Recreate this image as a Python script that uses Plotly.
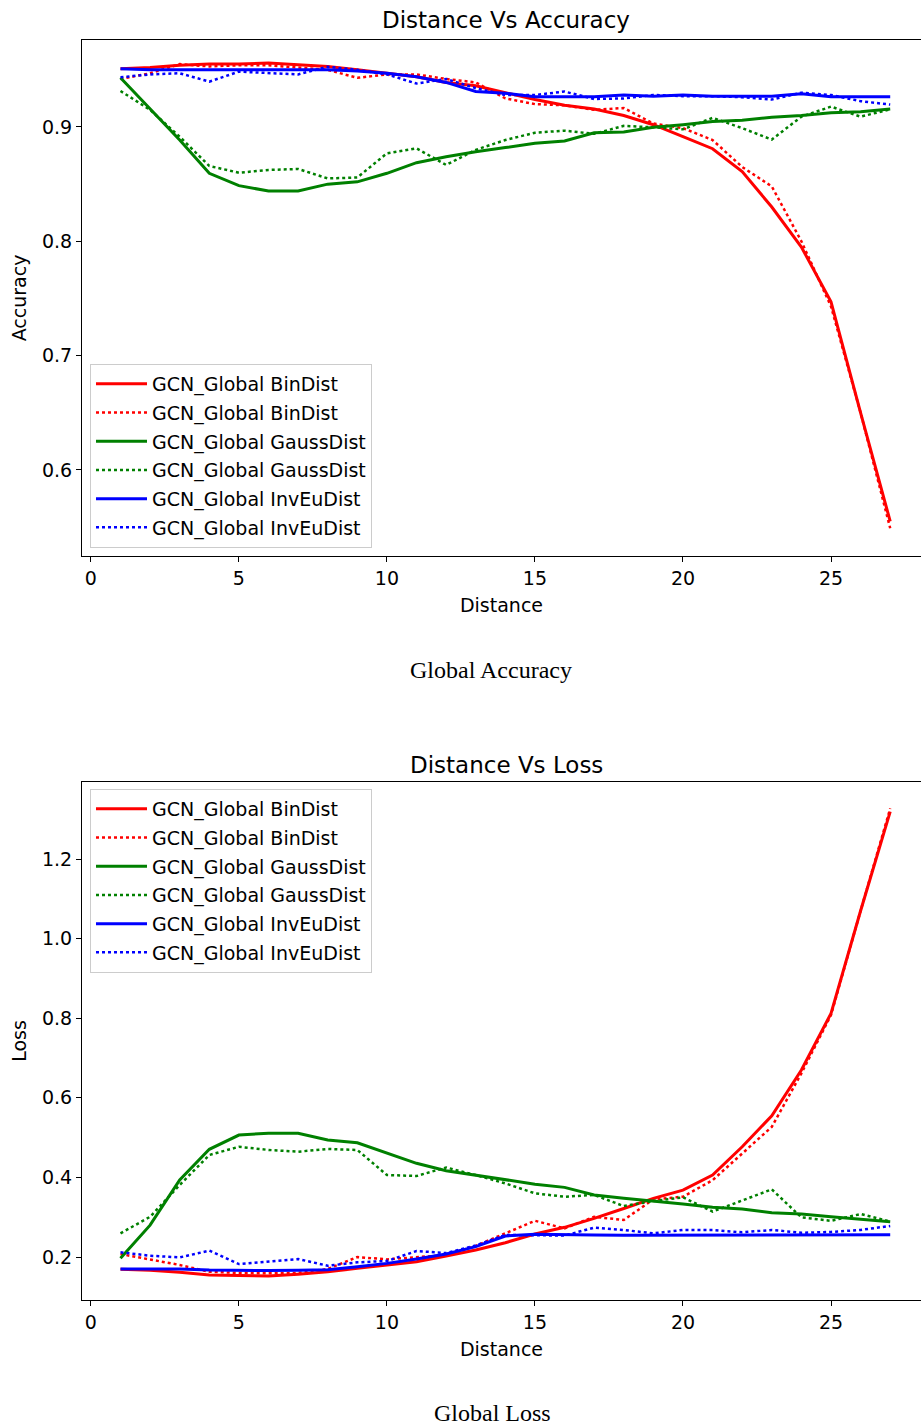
import plotly.graph_objects as go

distance = list(range(1, 28))

# Accuracy (top panel)
acc_bin_solid = [0.951, 0.952, 0.954, 0.955, 0.955, 0.956, 0.9545, 0.953, 0.950, 0.947, 0.944, 0.939, 0.936,
                 0.930, 0.924, 0.919, 0.9157, 0.910, 0.902, 0.8915, 0.881, 0.861, 0.830, 0.795, 0.747, 0.650, 0.555]
acc_bin_dot = [0.942, 0.947, 0.955, 0.953, 0.954, 0.954, 0.952, 0.950, 0.943, 0.946, 0.946, 0.942, 0.939,
               0.925, 0.920, 0.919, 0.915, 0.9166, 0.903, 0.899, 0.8886, 0.865, 0.848, 0.800, 0.743, 0.650, 0.549]
acc_gauss_solid = [0.943, 0.916, 0.8886, 0.8595, 0.8487, 0.844, 0.844, 0.850, 0.852, 0.8595, 0.8688, 0.874, 0.8784,
                   0.882, 0.8857, 0.8877, 0.895, 0.8956, 0.8997, 0.902, 0.9047, 0.906, 0.9085, 0.910, 0.9125, 0.9134, 0.9157]
acc_gauss_dot = [0.9315, 0.915, 0.8915, 0.8659, 0.860, 0.8624, 0.8633, 0.855, 0.8558, 0.877, 0.8813, 0.8668, 0.880,
                 0.8886, 0.895, 0.8968, 0.894, 0.901, 0.8997, 0.898, 0.908, 0.899, 0.889, 0.909, 0.9178, 0.909, 0.9155]
acc_inv_solid = [0.951, 0.950, 0.950, 0.950, 0.950, 0.950, 0.950, 0.950, 0.949, 0.947, 0.944, 0.939, 0.931,
                 0.9295, 0.9265, 0.9265, 0.9265, 0.928, 0.927, 0.928, 0.927, 0.927, 0.927, 0.929, 0.9265, 0.9265, 0.9265]
acc_inv_dot = [0.9435, 0.946, 0.947, 0.9397, 0.9484, 0.947, 0.946, 0.9527, 0.950, 0.946, 0.938, 0.942, 0.934,
               0.928, 0.928, 0.931, 0.9245, 0.925, 0.928, 0.927, 0.927, 0.926, 0.924, 0.930, 0.928, 0.9226, 0.9196]

# Loss (bottom panel)
loss_bin_solid = [0.169, 0.167, 0.1615, 0.155, 0.1535, 0.152, 0.157, 0.163, 0.1715, 0.180, 0.188, 0.2025, 0.2176,
                  0.236, 0.2578, 0.2746, 0.297, 0.322, 0.3475, 0.368, 0.406, 0.477, 0.555, 0.670, 0.812, 1.07, 1.319]
loss_bin_dot = [0.2075, 0.194, 0.180, 0.163, 0.160, 0.159, 0.160, 0.170, 0.200, 0.194, 0.200, 0.205, 0.228,
                0.259, 0.291, 0.272, 0.301, 0.293, 0.345, 0.3515, 0.393, 0.460, 0.527, 0.6616, 0.808, 1.07, 1.327]
loss_gauss_solid = [0.1967, 0.280, 0.3935, 0.4706, 0.5065, 0.511, 0.511, 0.494, 0.487, 0.462, 0.4354, 0.4169, 0.406,
                    0.3935, 0.383, 0.375, 0.356, 0.3475, 0.3407, 0.333, 0.325, 0.3206, 0.311, 0.308, 0.301, 0.2955, 0.2888]
loss_gauss_dot = [0.2595, 0.301, 0.381, 0.4563, 0.477, 0.469, 0.4646, 0.4714, 0.469, 0.406, 0.4035, 0.425, 0.406,
                  0.385, 0.360, 0.3515, 0.356, 0.328, 0.3407, 0.350, 0.314, 0.343, 0.370, 0.2997, 0.291, 0.308, 0.289]
loss_inv_solid = [0.170, 0.1706, 0.170, 0.1673, 0.166, 0.166, 0.167, 0.168, 0.1757, 0.184, 0.195, 0.2075, 0.226,
                  0.2528, 0.257, 0.2553, 0.2553, 0.2545, 0.2545, 0.254, 0.254, 0.254, 0.2545, 0.2545, 0.2545, 0.2545, 0.2558]
loss_inv_dot = [0.2118, 0.2033, 0.199, 0.216, 0.1824, 0.189, 0.195, 0.178, 0.1866, 0.190, 0.215, 0.210, 0.229,
                0.2553, 0.2553, 0.254, 0.2737, 0.268, 0.2595, 0.268, 0.268, 0.262, 0.268, 0.261, 0.263, 0.268, 0.278]

names = ["GCN_Global BinDist", "GCN_Global BinDist", "GCN_Global GaussDist",
         "GCN_Global GaussDist", "GCN_Global InvEuDist", "GCN_Global InvEuDist"]
colors = ["#ff0000", "#ff0000", "#008000", "#008000", "#0000ff", "#0000ff"]
dashes = ["solid", "dot", "solid", "dot", "solid", "dot"]

acc_series = [acc_bin_solid, acc_bin_dot, acc_gauss_solid, acc_gauss_dot, acc_inv_solid, acc_inv_dot]
loss_series = [loss_bin_solid, loss_bin_dot, loss_gauss_solid, loss_gauss_dot, loss_inv_solid, loss_inv_dot]

W, H = 921, 1426
FONT = "DejaVu Sans"
TXT = 19

fig = go.Figure()
for i, ys in enumerate(acc_series):
    fig.add_trace(go.Scatter(x=distance, y=ys, mode="lines", name=names[i],
                             line=dict(color=colors[i], dash=dashes[i], width=3 if dashes[i] == "solid" else 2.5),
                             xaxis="x", yaxis="y", legend="legend", legendgroup="a%d" % i))
for i, ys in enumerate(loss_series):
    fig.add_trace(go.Scatter(x=distance, y=ys, mode="lines", name=names[i],
                             line=dict(color=colors[i], dash=dashes[i], width=3 if dashes[i] == "solid" else 2.5),
                             xaxis="x2", yaxis="y2", legend="legend2", legendgroup="b%d" % i))


def py(p):
    return 1 - p / H


xdom = [82 / W, 1.0]
axis_common = dict(showline=True, linecolor="black", linewidth=1.2, ticks="outside", ticklen=5,
                   tickcolor="black", showgrid=False, zeroline=False,
                   tickfont=dict(family=FONT, size=TXT, color="black"))
title_font = dict(family=FONT, size=TXT, color="black")

legend_common = dict(font=dict(family=FONT, size=TXT, color="black"), bgcolor="rgba(255,255,255,0.8)",
                     bordercolor="#cccccc", borderwidth=1, xanchor="left", yanchor="top",
                     tracegroupgap=1, itemwidth=51)

fig.update_layout(
    width=W, height=H, margin=dict(l=0, r=0, t=0, b=0),
    paper_bgcolor="white", plot_bgcolor="white",
    showlegend=True,
    xaxis=dict(domain=xdom, anchor="y", range=[-0.3, 28.04], tickvals=[0, 5, 10, 15, 20, 25],
               mirror=True, title=dict(text="Distance", font=title_font, standoff=10),
               **axis_common),
    yaxis=dict(domain=[py(556), py(40)], anchor="x", range=[0.5247, 0.9761], tickvals=[0.6, 0.7, 0.8, 0.9],
               ticktext=["0.6", "0.7", "0.8", "0.9"],
               title=dict(text="Accuracy", font=title_font, standoff=10),
               **axis_common),
    xaxis2=dict(domain=xdom, anchor="y2", range=[-0.3, 28.04], tickvals=[0, 5, 10, 15, 20, 25],
                mirror=True, title=dict(text="Distance", font=title_font, standoff=10),
                **axis_common),
    yaxis2=dict(domain=[py(1300), py(782)], anchor="x2", range=[0.092, 1.3935], tickvals=[0.2, 0.4, 0.6, 0.8, 1.0, 1.2],
                ticktext=["0.2", "0.4", "0.6", "0.8", "1.0", "1.2"],
                title=dict(text="Loss", font=title_font, standoff=10),
                **axis_common),
    legend=dict(x=90 / W, y=py(364), **legend_common),
    legend2=dict(x=90 / W, y=py(789), **legend_common),
    annotations=[
        dict(text="Distance Vs Accuracy", x=506 / W, y=py(20), xref="paper", yref="paper", showarrow=False,
             xanchor="center", yanchor="middle", font=dict(family=FONT, size=23, color="black")),
        dict(text="Distance Vs Loss", x=506 / W, y=py(765), xref="paper", yref="paper", showarrow=False,
             xanchor="center", yanchor="middle", font=dict(family=FONT, size=23, color="black")),
        dict(text="Global Accuracy", x=491 / W, y=py(670), xref="paper", yref="paper", showarrow=False,
             xanchor="center", yanchor="middle", font=dict(family="Liberation Serif", size=24, color="black")),
        dict(text="Global Loss", x=492 / W, y=py(1413), xref="paper", yref="paper", showarrow=False,
             xanchor="center", yanchor="middle", font=dict(family="Liberation Serif", size=24, color="black")),
    ],
)

fig.write_html("out.html",
               config={"displayModeBar": False},
               post_script="document.body.style.margin='0';document.body.style.padding='0';"
                           "document.documentElement.style.overflow='hidden';")
